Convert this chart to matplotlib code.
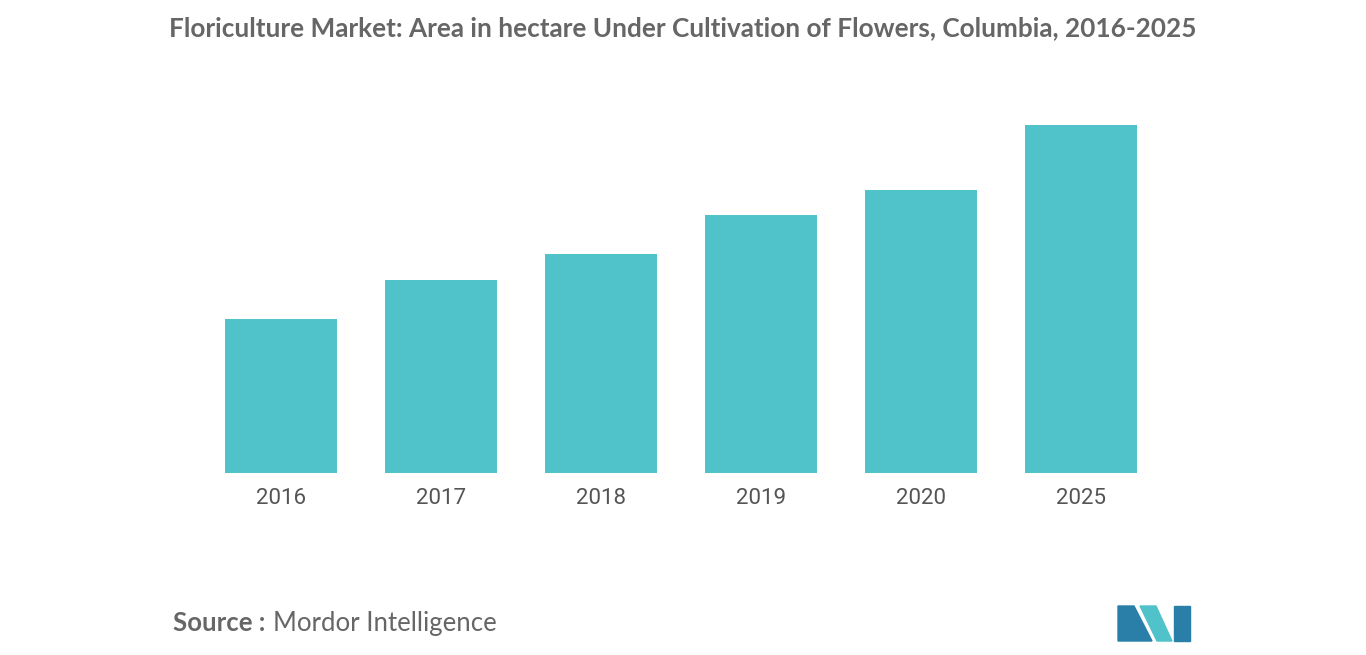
import matplotlib
matplotlib.use("Agg")
import matplotlib.pyplot as plt
from matplotlib.patches import Polygon

years = ["2016", "2017", "2018", "2019", "2020", "2025"]
values = [154, 193, 219, 258, 283, 348]

W, H = 1366, 655
fig = plt.figure(figsize=(W/100, H/100), dpi=100)
ax = fig.add_axes([201/W, 182/H, 960/W, 348/H])
ax.bar(range(len(years)), values, width=0.7, color="#4fc3c9")
ax.set_xlim(-0.5, 5.5)
ax.set_ylim(0, 348)
ax.set_xticks(range(len(years)))
ax.set_xticklabels(years, fontsize=16, color="#555555", family="Roboto")
ax.tick_params(axis="x", length=0, pad=11)
ax.set_yticks([])
for s in ax.spines.values():
    s.set_visible(False)

fig.text(683/W, 1-28/H, "Floriculture Market: Area in hectare Under Cultivation of Flowers, Columbia, 2016-2025",
         ha="center", va="center", fontsize=18.8, fontweight="bold", color="#666666", family="Lato")
fig.text(173/W, 1-623/H, "Source :", ha="left", va="center", fontsize=18.5, fontweight="bold", color="#666666", family="Lato")
fig.text(273/W, 1-623/H, "Mordor Intelligence", ha="left", va="center", fontsize=18.5, color="#666666", family="Lato")

def px(pts):
    return [(x/W, 1-y/H) for x, y in pts]
fig.patches.append(Polygon(px([(1118,606),(1134,606),(1152,641),(1118,641)]), closed=True, color="#2a7fa8", transform=fig.transFigure))
fig.patches.append(Polygon(px([(1140,606),(1156,606),(1172,641),(1157,641)]), closed=True, color="#4fc3c9", transform=fig.transFigure))
fig.patches.append(Polygon(px([(1174,606),(1190,606),(1190,641),(1174,641)]), closed=True, color="#2a7fa8", transform=fig.transFigure))
fig.savefig("out.png", dpi=100)
